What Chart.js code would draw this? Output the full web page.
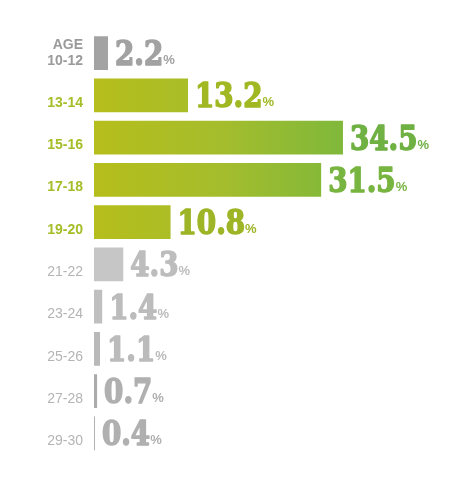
<!DOCTYPE html>
<html>
<head>
<meta charset="utf-8">
<script src="https://cdn.jsdelivr.net/npm/chart.js@4/dist/chart.umd.min.js"></script>
<style>
  html, body { margin: 0; padding: 0; background: #fff; }
  #wrap { width: 464px; height: 480px; }
</style>
</head>
<body>
<div id="wrap"><canvas id="chart"></canvas></div>
<script>
const ages = [["AGE", "10-12"], "13-14", "15-16", "17-18", "19-20", "21-22", "23-24", "25-26", "27-28", "29-30"];
const shares = [2.2, 13.2, 34.5, 31.5, 10.8, 4.3, 1.4, 1.1, 0.7, 0.4];
const highlighted = [false, true, true, true, true, false, false, false, false, false];

// colours
const grayBars = ["#a3a3a3", null, null, null, null, "#c6c6c6", "#bfbfbf", "#b9b9b9", "#ababab", "#a9a9a9"];
const valueColors = ["#a2a2a2", "#a1b823", "#6fb143", "#78b540", "#9db526", "#bdbdbd", "#bcbcbc", "#bbbbbb", "#b0b0b0", "#b0b0b0"];
const tickColors = ["#9a9a9a", "#a5bd27", "#a5bd27", "#a5bd27", "#a5bd27", "#b4b4b4", "#b4b4b4", "#b4b4b4", "#b4b4b4", "#b4b4b4"];

const ctx = document.querySelector("#chart").getContext("2d");

function barFill(context) {
  const i = context.dataIndex;
  if (!highlighted[i]) return grayBars[i];
  const area = context.chart.chartArea;
  if (!area) return "#a8bd2a";
  const g = context.chart.ctx.createLinearGradient(area.left, 0, area.left + 252, 0);
  g.addColorStop(0, "#b6be1b");
  g.addColorStop(0.5, "#a5bd2c");
  g.addColorStop(1, "#7fb83b");
  return g;
}

// value labels: big slab number + small %
const valueLabels = {
  id: "valueLabels",
  afterDatasetsDraw(chart) {
    const c = chart.ctx;
    const meta = chart.getDatasetMeta(0);
    meta.data.forEach((bar, i) => {
      const txt = shares[i].toFixed(1);
      const x = bar.x + 6;
      const y = bar.y + 12;
      const sx = 0.84;
      c.save();
      c.fillStyle = valueColors[i];
      c.strokeStyle = valueColors[i];
      c.lineWidth = 1.6;
      c.lineJoin = "round";
      c.textBaseline = "alphabetic";
      c.textAlign = "left";
      c.translate(x, y);
      c.scale(sx, 1);
      c.font = "bold 33px 'DejaVu Serif'";
      c.fillText(txt, 0, 0);
      c.strokeText(txt, 0, 0);
      const w = c.measureText(txt).width * sx;
      c.restore();
      c.save();
      c.fillStyle = valueColors[i];
      c.font = "bold 13px 'Liberation Sans'";
      c.textBaseline = "alphabetic";
      c.fillText("%", x + w, y - 1);
      c.restore();
    });
  }
};

new Chart(ctx, {
  type: "bar",
  data: {
    labels: ages,
    datasets: [
      {
        data: shares,
        backgroundColor: barFill,
        borderColor: "rgba(255,255,255,0.35)",
        borderWidth: 1,
        borderSkipped: false,
        barPercentage: 0.845,
        categoryPercentage: 1,
      },
    ],
  },
  options: {
    indexAxis: "y",
    responsive: true,
    maintainAspectRatio: false,
    animation: false,
    layout: { padding: { top: 32, bottom: 22, left: 0, right: 0 } },
    plugins: {
      legend: { display: false },
      tooltip: { enabled: false },
    },
    scales: {
      x: {
        display: false,
        min: 0,
        max: 51,
      },
      y: {
        grid: { display: false, drawTicks: false },
        border: { display: false },
        ticks: {
          padding: 10,
          // single labels sit on the lower line, like the two-line first one
          callback: function (value, index) {
            const label = ages[index];
            return Array.isArray(label) ? label : ["", label];
          },
          color: (c) => tickColors[c.index],
          font: (c) => ({
            family: "'Liberation Sans', Arial, sans-serif",
            size: 14,
            weight: c.index < 5 ? "bold" : "normal",
            lineHeight: 1.1,
          }),
        },
        afterFit(scale) {
          scale.width = 93;
        },
      },
    },
  },
  plugins: [valueLabels],
});
</script>
</body>
</html>
